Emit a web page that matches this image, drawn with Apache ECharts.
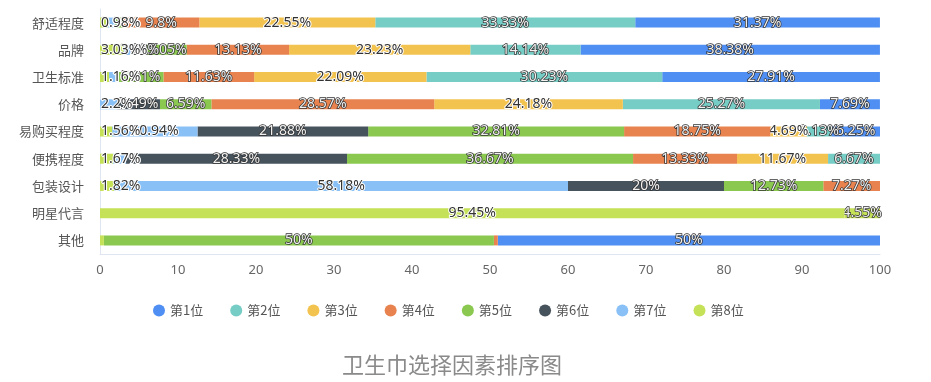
<!DOCTYPE html>
<html>
<head>
<meta charset="utf-8">
<script src="https://cdn.jsdelivr.net/npm/echarts@6/dist/echarts.min.js"></script>
<style>
html,body{margin:0;padding:0;background:#fff;}
#chart{width:931px;height:382px;}
</style>
</head>
<body>
<div id="chart"></div>
<script>
const categories = ['舒适程度','品牌','卫生标准','价格','易购买程度','便携程度','包装设计','明星代言','其他'];
const rankNames = ['第1位','第2位','第3位','第4位','第5位','第6位','第7位','第8位'];
const rank1 = [31.37, 38.38, 27.91, 7.69, 6.25, 0, 0, 4.55, 50];
const rank2 = [33.33, 14.14, 30.23, 25.27, 3.13, 6.67, 0, 0, 0];
const rank3 = [22.55, 23.23, 22.09, 24.18, 4.69, 11.67, 0, 0, 0];
const rank4 = [9.8, 13.13, 11.63, 28.57, 18.75, 13.33, 7.27, 0, 0.5];
const rank5 = [0.98, 5.05, 5.81, 6.59, 32.81, 36.67, 12.73, 0, 50];
const rank6 = [0, 2.02, 0, 5.49, 21.88, 28.33, 20, 0, 0];
const rank7 = [0.98, 1.01, 1.16, 2.2, 10.94, 1.67, 58.18, 0, 0];
const rank8 = [0.98, 3.03, 1.16, 0, 1.56, 1.67, 1.82, 95.45, 0.5];
const xTicks = [0, 10, 20, 30, 40, 50, 60, 70, 80, 90, 100];
const chartTitle = '卫生巾选择因素排序图';

const rankData = [rank1, rank2, rank3, rank4, rank5, rank6, rank7, rank8];
const rankColors = ['#4f8ef2', '#76cdc5', '#f3c350', '#e8834f', '#8ac84f', '#46525c', '#89c0f5', '#c5e157'];
const outlinedRanks = [0, 1, 3, 4, 5];
const hideLabelBelow = 0.9;
const drawnLikeRank8 = ['明星代言'];
const gridLeft = 100;

const series = [];
for (let r = 7; r >= 0; r--) {
  const outlined = outlinedRanks.indexOf(r) >= 0;
  series.push({
    name: rankNames[r],
    type: 'bar',
    stack: 'total',
    barWidth: 10,
    itemStyle: { color: rankColors[r] },
    label: {
      show: true,
      position: 'inside',
      fontSize: 14,
      color: outlined ? '#f2f2f2' : '#333',
      textBorderColor: outlined ? '#333' : '#fff',
      textBorderWidth: outlined ? 1.5 : 2,
      formatter: p => (p.value < hideLabelBelow ? '' : p.value + '%')
    },
    labelLayout: function (p) {
      const rc = p.labelRect;
      if (rc.x < gridLeft) {
        return { x: gridLeft + rc.width / 2, y: rc.y + rc.height / 2, align: 'center', verticalAlign: 'middle' };
      }
    },
    data: rankData[r].map((v, i) => (r === 0 && drawnLikeRank8.indexOf(categories[i]) >= 0)
      ? { value: v, itemStyle: { color: rankColors[7] } } : v)
  });
}
// labels of the lower ranks (drawn first in the stack) sit on top
series.forEach((s, i) => { s.z = 20 - i; });

const chart = echarts.init(document.getElementById('chart'));
chart.setOption({
  animation: false,
  textStyle: { fontFamily: 'Noto Sans, Noto Sans CJK SC, sans-serif' },
  title: {
    text: chartTitle,
    left: 337, top: 349,
    textStyle: { fontSize: 22, fontWeight: 'normal', color: '#8a8a8a', fontFamily: 'Noto Sans CJK SC' }
  },
  legend: {
    data: rankNames,
    left: 148, top: 299,
    icon: 'circle',
    itemWidth: 12, itemHeight: 12,
    itemGap: 27,
    textStyle: { fontSize: 13, color: '#555', fontFamily: 'Noto Sans CJK SC' }
  },
  grid: { left: gridLeft, right: 51, top: 9, bottom: 128, containLabel: false },
  xAxis: {
    type: 'value',
    min: xTicks[0], max: xTicks[xTicks.length - 1], interval: xTicks[1] - xTicks[0],
    splitLine: { show: false },
    axisLine: { show: true, lineStyle: { color: '#e0e6f1' } },
    axisTick: { show: false },
    axisLabel: { fontSize: 13, color: '#666', margin: 10 }
  },
  yAxis: {
    type: 'category',
    data: categories,
    inverse: true,
    axisTick: { show: false },
    axisLine: { show: true, lineStyle: { color: '#e0e6f1' } },
    axisLabel: { fontSize: 13, color: '#555', margin: 16, fontFamily: 'Noto Sans CJK SC' }
  },
  series: series
});
</script>
</body>
</html>
